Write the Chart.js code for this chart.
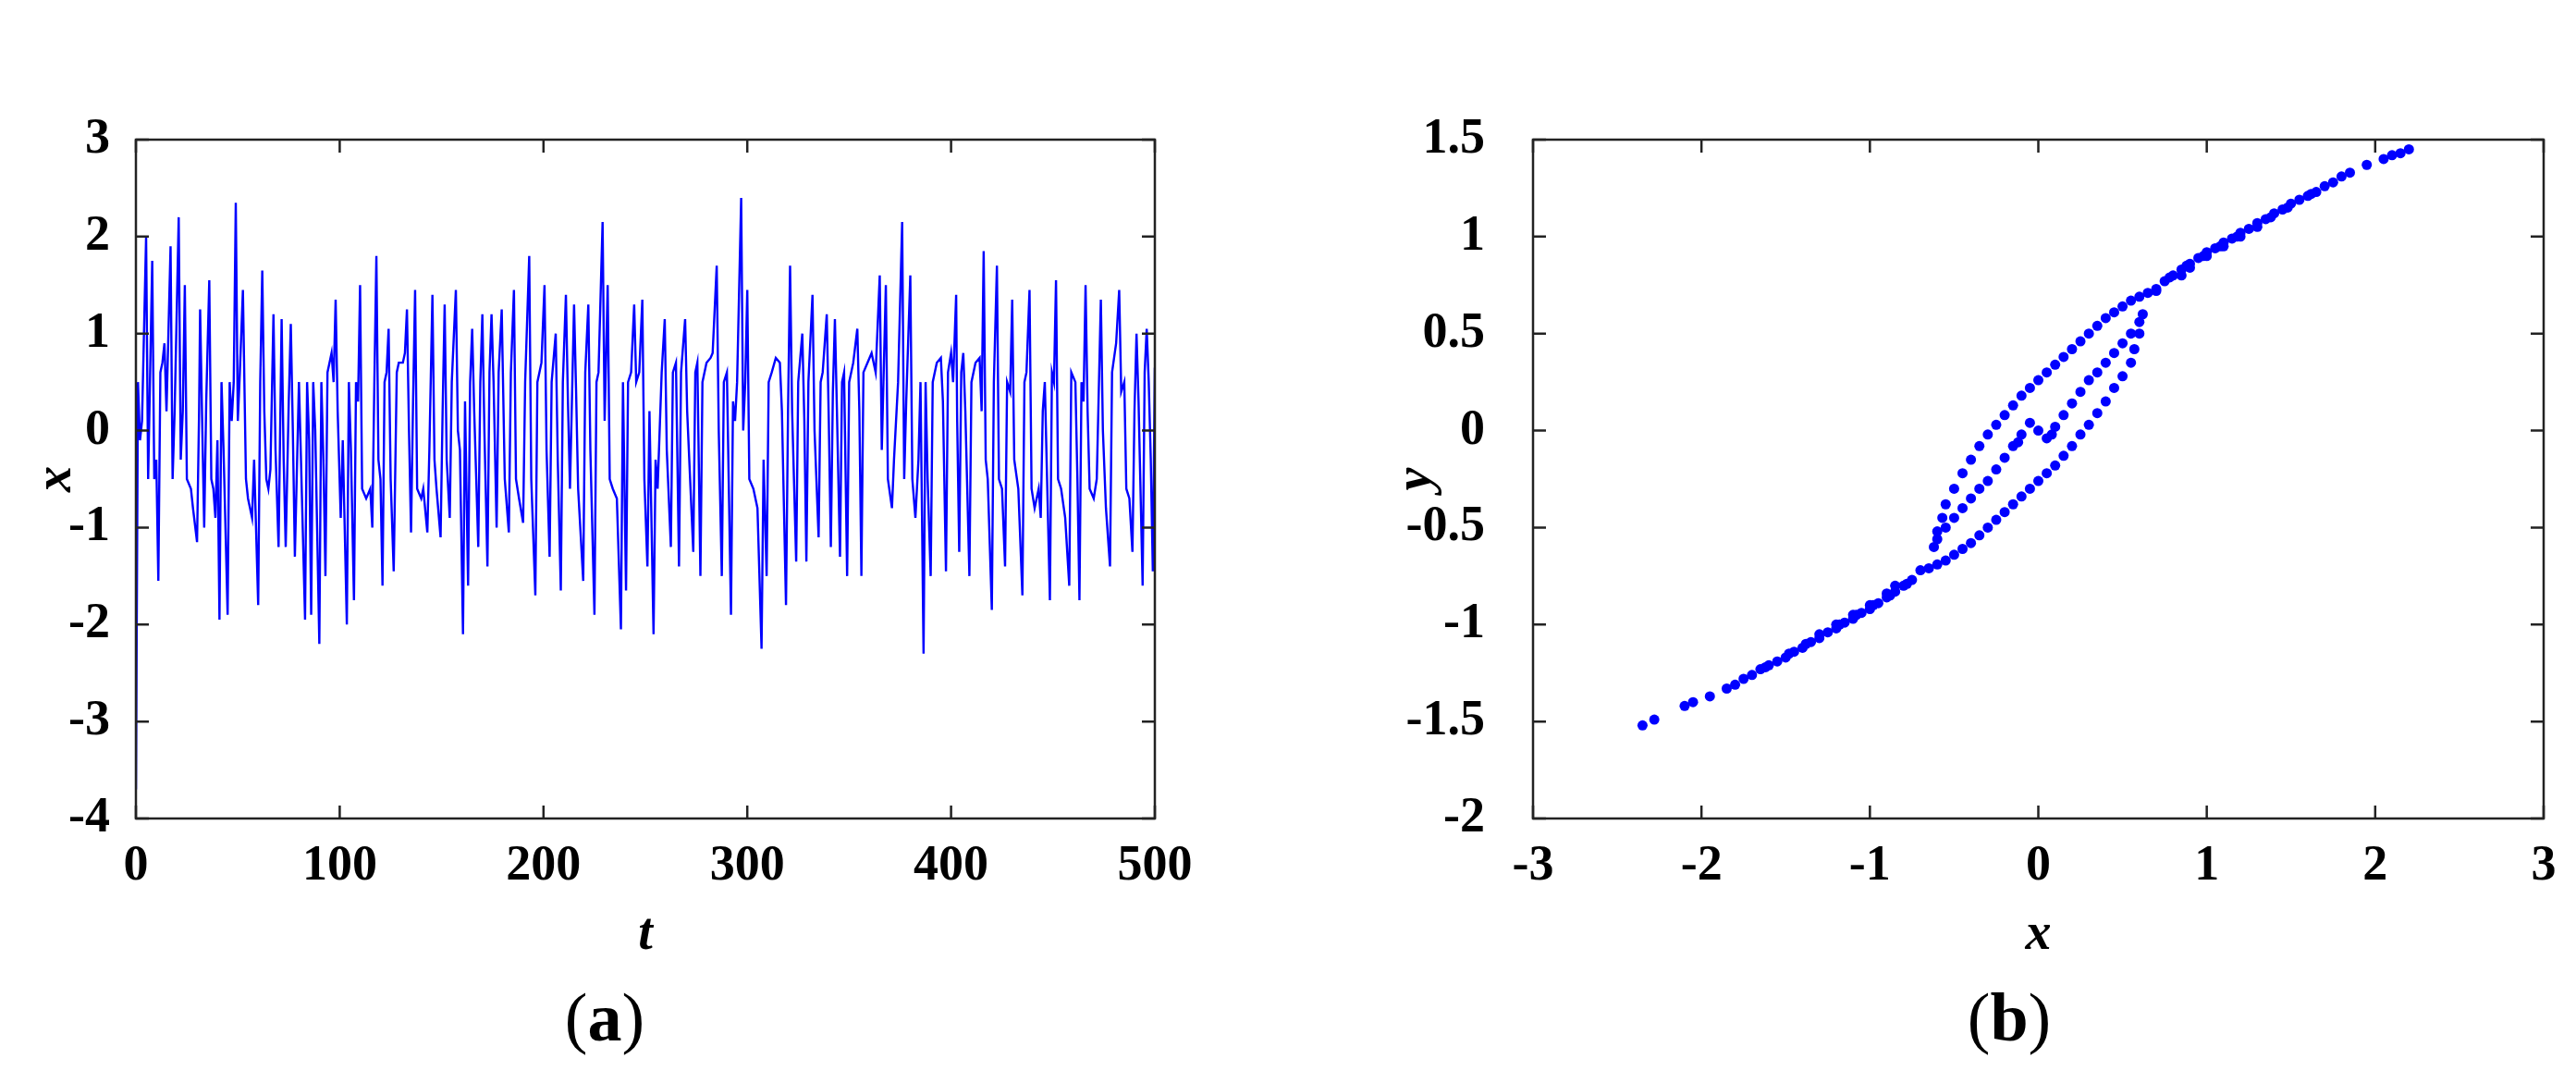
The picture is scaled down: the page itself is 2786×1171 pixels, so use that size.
<!DOCTYPE html>
<html lang="en">
<head>
<meta charset="UTF-8">
<title>Time series and phase portrait</title>
<script src="https://cdn.jsdelivr.net/npm/chart.js@4.4.1/dist/chart.umd.min.js"></script>
<style>
  body { margin: 0; background: #fff; }
  .wrap { position: absolute; top: 0; width: 1393px; height: 1171px; }
  .tag { position: absolute; top: 1058px; font: 74px "Liberation Serif", serif; color: #000; transform: translateX(-50%); }
  .tag b { font-weight: bold; }
</style>
</head>
<body>
<div class="wrap" style="left:0"><canvas id="chartA"></canvas></div>
<div class="wrap" style="left:1393px"><canvas id="chartB"></canvas></div>
<div class="tag" style="left:654px">(<b>a</b>)</div>
<div class="tag" style="left:2173px">(<b>b</b>)</div>
<script>
// (a) time series x(t)
const tVals = [0,1,2,3,5,6,8,9,10,11,12,13,14,15,17,18,19,21,22,23,24,25,27,28,30,31,31.5,32.5,33.5,34.5,36,37,38,39,40,41,42,43,45,46,47,48,49,50,51,52.5,54,55,57,58,60,61,62,63,64,65,66,67.5,68.5,70,71.5,72.5,73.5,75,76,77,78,80,81,83,84,85,86,87,88,90,91,92,93,94,95,96,97,98,99,100.5,101.5,103.5,104.5,105.5,107,108,109,110,111,113,115,116,117,118,119,120,121,122,123,124,125,126.5,128,129,131,132,133,134,135,136,137,138,140,141,143,144,145.5,146.5,147.5,149.5,150.5,151.5,152.5,154,155,157,158,159,160.5,161.5,163,164,165,166,168,169,170,171,172.5,173.5,174.5,175.5,177,178,179.5,181,183,184,185.5,186.5,188,190,191,193,194,196,197,198,199,200.5,201.5,203,204,206,207,208.5,209.5,211,212,213,215,216,217,219.5,220.5,222,223,225,226,227,229,230,231.5,232.5,234,236,238,239,240.5,241.5,243,244.5,245.5,247,248.5,249.5,251,252,254,255,256,258,259.5,260.5,262.5,263.5,265,266.5,267.5,269.5,270.5,273.5,274.5,275.5,277,278,280,282,283,285,286,287.5,288.5,290,292,293,294,295,297,298,299,300,301,303,305,307,308,309.5,310.5,312,314,316,317,319,320,321,322,324,325,327,328,329,330,332,333,335,336,337,339,340,341,342,343,344,345.5,346.5,347.5,349,350,352,354,355,356,357,359,361,363,365,366,368,369,371,372,374,376,377,378,380,381,382.5,384,385,386.5,387.5,388.5,390,391,393,395,396,397.5,398.5,400,401,402.5,403,404,405,406,407,409,410,412,414,415,416,417,418,420,421,422.5,423.5,425,426.5,427.5,429,430,431,433,435,436,437,438.5,439.5,441,443,444,445,446,447,448.5,449.5,450.5,451.5,452.5,454,456,458,459,461,462,463,464,465,466,467,468,470,471.5,473.5,474.5,476,478,479,481,482.5,483.5,485,486,487.5,489,490,491,492,494,495,496,497,498,499,500];
const xVals = [-3.7,0.5,-0.1,0.1,2.0,-0.5,1.75,-0.5,-0.3,-1.55,0.6,0.7,0.9,0.2,1.9,-0.5,0.2,2.2,-0.3,0.2,1.5,-0.5,-0.6,-0.8,-1.15,0.2,1.25,0.1,-1.0,0.3,1.55,-0.5,-0.6,-0.9,-0.1,-1.95,0.5,-0.2,-1.9,0.5,0.1,0.5,2.35,0.1,0.6,1.45,-0.5,-0.7,-0.9,-0.3,-1.8,0.5,1.65,0.2,-0.5,-0.6,-0.4,1.2,-0.2,-1.2,1.15,-0.3,-1.2,0.3,1.1,0.0,-1.3,0.5,-0.3,-1.95,0.5,-0.1,-1.9,0.5,0.0,-2.2,0.5,-0.3,-1.5,0.6,0.7,0.8,0.5,1.35,0.2,-0.9,-0.1,-2.0,0.5,-0.2,-1.75,0.5,0.3,1.5,-0.6,-0.7,-0.6,-1.0,0.5,1.8,-0.3,-0.5,-1.6,0.5,0.6,1.05,-0.5,-1.45,0.6,0.7,0.7,0.8,1.25,0.0,-1.05,0.3,1.45,-0.6,-0.7,-0.6,-1.05,-0.2,1.4,-0.3,-0.6,-1.1,0.2,1.3,-0.3,-0.9,0.5,1.45,0.0,-0.2,-2.1,0.3,-1.6,0.5,1.05,0.2,-1.2,0.5,1.2,0.0,-1.4,0.6,1.2,0.5,-1.0,0.6,1.25,-0.5,-1.05,0.6,1.45,-0.5,-0.7,-0.95,0.5,1.8,-0.5,-1.7,0.5,0.6,0.7,1.5,-0.2,-1.3,0.5,1.0,-0.3,-1.65,0.5,1.4,0.3,-0.6,1.3,0.4,-0.6,-1.55,0.6,1.3,-0.2,-1.9,0.5,0.6,2.15,0.1,1.5,-0.5,-0.6,-0.7,-2.05,0.5,-1.65,0.5,0.6,1.3,0.5,0.6,1.35,-0.5,-1.4,0.2,-2.1,-0.3,-0.6,0.6,1.15,-0.2,-1.2,0.6,0.7,-1.4,0.6,1.15,0.2,-1.25,0.6,0.7,-1.5,0.5,0.7,0.75,0.8,1.7,0.0,-1.5,0.5,0.6,-1.9,0.3,0.1,0.5,2.4,0.0,0.5,1.45,-0.5,-0.6,-0.8,-2.25,-0.3,-1.5,0.5,0.6,0.75,0.7,0.2,-1.8,0.2,1.7,0.2,-1.35,0.5,1.0,0.1,-1.35,0.5,1.4,0.0,-1.1,0.5,0.6,1.2,0.1,-1.2,0.4,1.15,0.2,-1.3,0.5,0.6,-1.5,0.5,0.7,1.05,0.2,-1.5,0.6,0.7,0.8,0.6,1.6,-0.2,1.5,-0.5,-0.8,-0.3,0.5,2.15,-0.5,0.3,1.6,-0.5,-0.9,-0.3,0.5,-2.3,0.5,-0.5,-1.5,0.5,0.7,0.75,0.3,-1.45,0.6,0.8,0.5,1.4,0.1,-1.25,0.6,0.8,0.2,-1.5,0.5,0.7,0.75,0.2,1.85,-0.3,-0.5,-1.85,0.5,1.7,-0.5,-0.6,-1.4,0.5,0.4,1.35,-0.3,-0.6,-1.7,0.5,0.6,1.45,-0.6,-0.8,-0.6,-0.9,0.2,0.5,-0.4,-1.75,0.6,0.5,1.55,-0.5,-0.6,-0.9,-1.6,0.6,0.5,-0.5,-1.75,0.5,0.3,1.5,0.2,-0.6,-0.7,-0.5,1.35,0.0,-0.8,-1.4,0.6,0.9,1.45,0.4,0.5,-0.6,-0.7,-1.25,0.2,1.0,0.3,-1.6,0.6,1.05,0.5,-0.3,-1.45,0.65];
const tTicks = [0, 100, 200, 300, 400, 500];
const xTicksA = [-4, -3, -2, -1, 0, 1, 2, 3];

// (b) phase portrait y vs x
const bx = [2.2,2.15,2.1,2.05,1.95,1.85,1.8,1.75,1.7,1.65,1.6,1.55,1.5,1.45,1.4,1.35,1.3,1.25,1.2,1.15,1.1,1.05,1.0,0.95,0.9,0.85,0.8,0.75,1.3,1.2,1.1,1.0,0.9,0.85,1.62,1.48,1.38,1.18,1.08,0.98,0.88,0.78,
  -2.35,-2.28,-2.1,-2.05,-1.95,-1.85,-1.8,-1.75,-1.7,-1.65,-1.6,-1.55,-1.5,-1.45,-1.4,-1.35,-1.3,-1.25,-1.2,-1.15,-1.1,-1.05,-1.0,-0.95,-0.9,-0.85,-0.8,-0.75,-1.3,-1.2,-1.1,-1.0,-0.9,-0.85,-1.62,-1.48,-1.38,-1.18,-1.08,-0.98,-0.88,-0.78,
  -0.7,-0.62,-0.6,-0.57,-0.55,-0.5,-0.45,-0.4,-0.35,-0.3,-0.25,-0.2,-0.15,-0.1,-0.05,0.0,0.05,0.1,0.15,0.2,0.25,0.3,0.35,0.4,0.45,0.5,0.55,0.6,0.65,0.7,
  0.7,0.62,0.6,0.57,0.55,0.5,0.45,0.4,0.35,0.3,0.25,0.2,0.15,0.1,0.05,0.0,-0.05,-0.1,-0.15,-0.2,-0.25,-0.3,-0.35,-0.4,-0.45,-0.5,-0.55,-0.6,-0.65,
  0.6,0.55,0.5,0.45,0.4,0.35,0.3,0.25,0.2,0.15,0.1,0.05,-0.6,-0.55,-0.5,-0.45,-0.4,-0.35,-0.3,-0.25,-0.2,-0.15,-0.1,-0.05,0.0,0.08,-0.12];
const by = [1.45,1.43,1.42,1.4,1.37,1.33,1.31,1.28,1.26,1.23,1.21,1.19,1.17,1.14,1.12,1.09,1.07,1.04,1.02,0.99,0.97,0.94,0.92,0.89,0.86,0.83,0.8,0.77,1.05,1.0,0.95,0.9,0.84,0.8,1.22,1.15,1.1,1.0,0.95,0.9,0.85,0.79,
  -1.52,-1.49,-1.42,-1.4,-1.37,-1.33,-1.31,-1.28,-1.26,-1.23,-1.21,-1.19,-1.17,-1.14,-1.12,-1.09,-1.07,-1.04,-1.02,-0.99,-0.97,-0.94,-0.92,-0.89,-0.86,-0.83,-0.8,-0.77,-1.05,-1.0,-0.95,-0.9,-0.84,-0.8,-1.22,-1.15,-1.1,-1.0,-0.95,-0.9,-0.85,-0.79,
  -0.72,-0.6,-0.52,-0.45,-0.38,-0.3,-0.22,-0.15,-0.08,-0.02,0.03,0.08,0.13,0.18,0.22,0.26,0.3,0.34,0.38,0.42,0.46,0.5,0.54,0.58,0.61,0.64,0.67,0.69,0.71,0.73,
  0.72,0.6,0.5,0.42,0.35,0.28,0.22,0.15,0.09,0.03,-0.02,-0.08,-0.13,-0.18,-0.22,-0.26,-0.3,-0.34,-0.38,-0.42,-0.46,-0.5,-0.54,-0.58,-0.61,-0.64,-0.67,-0.69,-0.71,
  0.56,0.5,0.45,0.4,0.35,0.3,0.26,0.2,0.14,0.08,0.02,-0.04,-0.56,-0.5,-0.45,-0.4,-0.35,-0.3,-0.26,-0.2,-0.14,-0.08,-0.02,0.04,0.0,-0.02,-0.06];
const xTicksB = [-3, -2, -1, 0, 1, 2, 3];
const yTicksB = [-2, -1.5, -1, -0.5, 0, 0.5, 1, 1.5];

const BLUE = '#0000ff';
const tickFont = { family: '"Liberation Serif", serif', size: 54, weight: 'bold' };
const titleFont = { family: '"Liberation Serif", serif', size: 56, weight: 'bold', style: 'italic' };

// box with inward ticks on all four sides
const framePlugin = {
  id: 'frame',
  afterDraw(chart) {
    const { ctx, chartArea: a, scales } = chart;
    ctx.save();
    ctx.strokeStyle = '#222';
    ctx.lineWidth = 2.5;
    ctx.strokeRect(a.left, a.top, a.right - a.left, a.bottom - a.top);
    const L = 14;
    ctx.beginPath();
    scales.x.ticks.forEach(t => {
      const px = scales.x.getPixelForValue(t.value);
      ctx.moveTo(px, a.bottom); ctx.lineTo(px, a.bottom - L);
      ctx.moveTo(px, a.top); ctx.lineTo(px, a.top + L);
    });
    scales.y.ticks.forEach(t => {
      const py = scales.y.getPixelForValue(t.value);
      ctx.moveTo(a.left, py); ctx.lineTo(a.left + L, py);
      ctx.moveTo(a.right, py); ctx.lineTo(a.right - L, py);
    });
    ctx.stroke();
    ctx.restore();
  }
};

function makeOptions(o) {
  return {
    responsive: false,
    animation: false,
    layout: { padding: { top: 151, right: o.right, bottom: 0, left: 0 } },
    plugins: { legend: { display: false }, tooltip: { enabled: false } },
    scales: {
      x: {
        type: 'linear', min: o.xmin, max: o.xmax,
        afterBuildTicks: s => { s.ticks = o.xticks.map(v => ({ value: v })); },
        afterFit: s => { s.height = 160; },
        grid: { display: false }, border: { display: false },
        ticks: { font: tickFont, color: '#000', padding: 12, maxRotation: 0, callback: v => String(v) },
        title: { display: true, text: o.xtitle, font: titleFont, color: '#000', padding: { top: 0, bottom: 0 } }
      },
      y: {
        type: 'linear', min: o.ymin, max: o.ymax,
        afterBuildTicks: s => { s.ticks = o.yticks.map(v => ({ value: v })); },
        afterFit: s => { s.width = o.yw; },
        grid: { display: false }, border: { display: false },
        ticks: { font: tickFont, color: '#000', padding: o.ypad, callback: v => String(v) },
        title: { display: true, text: o.ytitle, font: titleFont, color: '#000', padding: { top: o.ytpad, bottom: 0 } }
      }
    }
  };
}

function sizeCanvas(id) {
  const c = document.getElementById(id);
  c.width = 1393; c.height = 1045;
  c.style.width = '1393px'; c.style.height = '1045px';
  return c;
}

new Chart(sizeCanvas('chartA'), {
  type: 'line',
  data: {
    datasets: [{
      data: tVals.map((t, i) => ({ x: t, y: xVals[i] })),
      borderColor: BLUE, borderWidth: 2.4, pointRadius: 0, tension: 0, fill: false
    }]
  },
  options: makeOptions({ right: 144, xmin: 0, xmax: 500, ymin: -4, ymax: 3,
    xticks: tTicks, yticks: xTicksA, xtitle: 't', ytitle: 'x', yw: 147, ypad: 20, ytpad: 28 }),
  plugins: [framePlugin]
});

new Chart(sizeCanvas('chartB'), {
  type: 'scatter',
  data: {
    datasets: [{
      data: bx.map((v, i) => ({ x: v, y: by[i] })),
      backgroundColor: BLUE, borderColor: BLUE, pointRadius: 5.5, borderWidth: 0
    }]
  },
  options: makeOptions({ right: 35, xmin: -3, xmax: 3, ymin: -2, ymax: 1.5,
    xticks: xTicksB, yticks: yTicksB, xtitle: 'x', ytitle: 'y', yw: 265, ypad: 44, ytpad: 106 }),
  plugins: [framePlugin]
});
</script>
</body>
</html>
